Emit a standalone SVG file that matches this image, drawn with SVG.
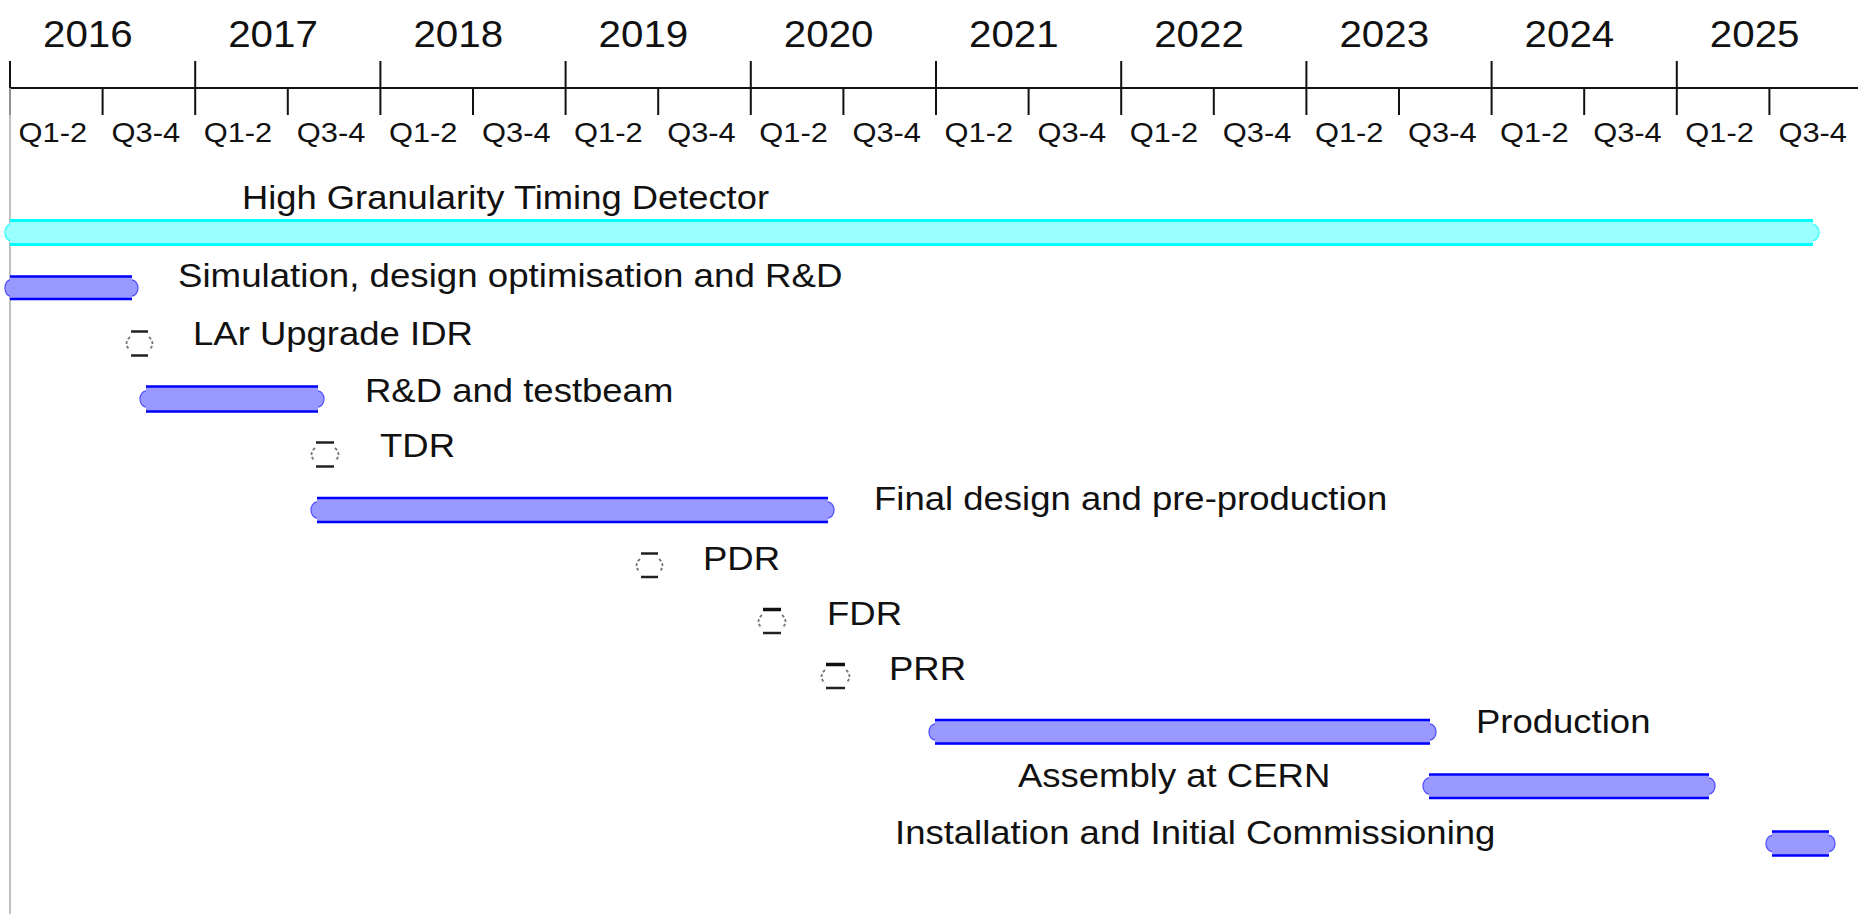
<svg xmlns="http://www.w3.org/2000/svg" width="1858" height="914" viewBox="0 0 1858 914">
<style>
text{font-family:"Liberation Sans",Arial,Helvetica,sans-serif;fill:#111}
.yr{font-size:37px}
.q{font-size:28.3px}
.lbl{font-size:33.5px}
.axis{stroke:#111;stroke-width:2;fill:none}
.guide{stroke:#b0b0b0;stroke-width:1.6}
.bfill{fill:#9999ff}
.bline{stroke:#0000ff;stroke-width:2.5}
.bend{fill:#9999ff;stroke:#5555ff;stroke-width:1.3}
.cfill{fill:#99ffff}
.cline{stroke:#00ffff;stroke-width:3}
.cend{fill:#99ffff;stroke:#33ffff;stroke-width:1.3}
.mdash{stroke:#222;stroke-width:2.5}
.mdash2{stroke:#111;stroke-width:3.5}
.mpar{fill:none;stroke:#777;stroke-width:1.8;stroke-dasharray:3 2}
</style>
<rect width="1858" height="914" fill="#fff"/>
<g id="axis">
<line class="axis" x1="10" y1="88" x2="1858" y2="88"/>
<path class="axis" d="M10 61V115M195.2 61V115M380.4 61V115M565.6 61V115M750.8 61V115M936 61V115M1121.2 61V115M1306.4 61V115M1491.6 61V115M1676.8 61V115"/>
<path class="axis" d="M102.6 88V115M287.8 88V115M473 88V115M658.2 88V115M843.4 88V115M1028.6 88V115M1213.8 88V115M1399 88V115M1584.2 88V115M1769.4 88V115"/>
<text class="yr" transform="translate(43 47) scale(1.09 1)">2016</text>
<text class="yr" transform="translate(228.2 47) scale(1.09 1)">2017</text>
<text class="yr" transform="translate(413.4 47) scale(1.09 1)">2018</text>
<text class="yr" transform="translate(598.6 47) scale(1.09 1)">2019</text>
<text class="yr" transform="translate(783.8 47) scale(1.09 1)">2020</text>
<text class="yr" transform="translate(969 47) scale(1.09 1)">2021</text>
<text class="yr" transform="translate(1154.2 47) scale(1.09 1)">2022</text>
<text class="yr" transform="translate(1339.4 47) scale(1.09 1)">2023</text>
<text class="yr" transform="translate(1524.6 47) scale(1.09 1)">2024</text>
<text class="yr" transform="translate(1709.8 47) scale(1.09 1)">2025</text>
<text class="q" transform="translate(18.5 142) scale(1.09 1)">Q1-2</text>
<text class="q" transform="translate(111.6 142) scale(1.09 1)">Q3-4</text>
<text class="q" transform="translate(203.7 142) scale(1.09 1)">Q1-2</text>
<text class="q" transform="translate(296.8 142) scale(1.09 1)">Q3-4</text>
<text class="q" transform="translate(388.9 142) scale(1.09 1)">Q1-2</text>
<text class="q" transform="translate(482 142) scale(1.09 1)">Q3-4</text>
<text class="q" transform="translate(574.1 142) scale(1.09 1)">Q1-2</text>
<text class="q" transform="translate(667.2 142) scale(1.09 1)">Q3-4</text>
<text class="q" transform="translate(759.3 142) scale(1.09 1)">Q1-2</text>
<text class="q" transform="translate(852.4 142) scale(1.09 1)">Q3-4</text>
<text class="q" transform="translate(944.5 142) scale(1.09 1)">Q1-2</text>
<text class="q" transform="translate(1037.6 142) scale(1.09 1)">Q3-4</text>
<text class="q" transform="translate(1129.7 142) scale(1.09 1)">Q1-2</text>
<text class="q" transform="translate(1222.8 142) scale(1.09 1)">Q3-4</text>
<text class="q" transform="translate(1314.9 142) scale(1.09 1)">Q1-2</text>
<text class="q" transform="translate(1408 142) scale(1.09 1)">Q3-4</text>
<text class="q" transform="translate(1500.1 142) scale(1.09 1)">Q1-2</text>
<text class="q" transform="translate(1593.2 142) scale(1.09 1)">Q3-4</text>
<text class="q" transform="translate(1685.3 142) scale(1.09 1)">Q1-2</text>
<text class="q" transform="translate(1778.4 142) scale(1.09 1)">Q3-4</text>
</g>
<g id="connectors">
<line class="guide" x1="10" y1="88" x2="10" y2="914"/>
</g>
<g id="hgtd">
<ellipse class="cend" cx="10" cy="232.5" rx="5" ry="8"/>
<ellipse class="cend" cx="1813" cy="232.5" rx="6" ry="8"/>
<rect class="cfill" x="10" y="220" width="1803" height="25"/>
<line class="cline" x1="10" y1="220.5" x2="1813" y2="220.5"/>
<line class="cline" x1="10" y1="244.5" x2="1813" y2="244.5"/>
<text class="lbl" transform="translate(242 209) scale(1.085 1)">High Granularity Timing Detector</text>
</g>
<g id="sim">
<ellipse class="bend" cx="10" cy="288" rx="5" ry="8"/>
<ellipse class="bend" cx="132" cy="288" rx="6" ry="8"/>
<rect class="bfill" x="10" y="276" width="122" height="24"/>
<line class="bline" x1="10" y1="276.5" x2="132" y2="276.5"/>
<line class="bline" x1="10" y1="299" x2="132" y2="299" stroke-width="3.5"/>
<text class="lbl" transform="translate(178 287) scale(1.095 1)">Simulation, design optimisation and R&amp;D</text>
</g>
<g id="lar-idr">
<line class="mdash" x1="131" y1="331.5" x2="148" y2="331.5"/>
<line class="mdash" x1="131" y1="355.5" x2="148" y2="355.5"/>
<path class="mpar" d="M130 337Q123 343.5 130 350M149 337Q156 343.5 149 350"/>
<text class="lbl" transform="translate(193 345) scale(1.09 1)">LAr Upgrade IDR</text>
</g>
<g id="rnd">
<ellipse class="bend" cx="146" cy="399" rx="6" ry="8"/>
<ellipse class="bend" cx="318" cy="399" rx="6" ry="8"/>
<rect class="bfill" x="146" y="386" width="172" height="26"/>
<line class="bline" x1="146" y1="386.5" x2="318" y2="386.5"/>
<line class="bline" x1="146" y1="411.5" x2="318" y2="411.5"/>
<text class="lbl" transform="translate(365 402) scale(1.09 1)">R&amp;D and testbeam</text>
</g>
<g id="tdr">
<line class="mdash" x1="316" y1="442.5" x2="334" y2="442.5"/>
<line class="mdash" x1="316" y1="466.5" x2="334" y2="466.5"/>
<path class="mpar" d="M315 448Q308 454.5 315 461M335 448Q342 454.5 335 461"/>
<text class="lbl" transform="translate(380 457) scale(1.09 1)">TDR</text>
</g>
<g id="final-design">
<ellipse class="bend" cx="317" cy="510" rx="6" ry="8"/>
<ellipse class="bend" cx="828" cy="510" rx="6" ry="8"/>
<rect class="bfill" x="317" y="497.5" width="511" height="25"/>
<line class="bline" x1="317" y1="498" x2="828" y2="498"/>
<line class="bline" x1="317" y1="522" x2="828" y2="522"/>
<text class="lbl" transform="translate(874 510) scale(1.09 1)">Final design and pre-production</text>
</g>
<g id="pdr">
<line class="mdash" x1="641" y1="553.5" x2="658" y2="553.5"/>
<line class="mdash" x1="641" y1="577" x2="658" y2="577"/>
<path class="mpar" d="M640 559Q633 565.5 640 572M659 559Q666 565.5 659 572"/>
<text class="lbl" transform="translate(703 570) scale(1.09 1)">PDR</text>
</g>
<g id="fdr">
<line class="mdash2" x1="763" y1="609.5" x2="781" y2="609.5"/>
<line class="mdash" x1="763" y1="633" x2="781" y2="633"/>
<path class="mpar" d="M762 615Q755 621.5 762 628M782 615Q789 621.5 782 628"/>
<text class="lbl" transform="translate(827 625) scale(1.09 1)">FDR</text>
</g>
<g id="prr">
<line class="mdash2" x1="826" y1="664.5" x2="845" y2="664.5"/>
<line class="mdash" x1="826" y1="688" x2="845" y2="688"/>
<path class="mpar" d="M825 670Q818 676.5 825 683M846 670Q853 676.5 846 683"/>
<text class="lbl" transform="translate(889 680) scale(1.09 1)">PRR</text>
</g>
<g id="production">
<ellipse class="bend" cx="935" cy="732" rx="6" ry="8"/>
<ellipse class="bend" cx="1430" cy="732" rx="6" ry="8"/>
<rect class="bfill" x="935" y="719.5" width="495" height="25"/>
<line class="bline" x1="935" y1="720" x2="1430" y2="720" stroke-width="3.5"/>
<line class="bline" x1="935" y1="743.5" x2="1430" y2="743.5"/>
<text class="lbl" transform="translate(1476 733) scale(1.09 1)">Production</text>
</g>
<g id="assembly">
<ellipse class="bend" cx="1429" cy="786" rx="6" ry="8"/>
<ellipse class="bend" cx="1709" cy="786" rx="6" ry="8"/>
<rect class="bfill" x="1429" y="774" width="280" height="24"/>
<line class="bline" x1="1429" y1="774.5" x2="1709" y2="774.5"/>
<line class="bline" x1="1429" y1="798" x2="1709" y2="798"/>
<text class="lbl" transform="translate(1018 787) scale(1.09 1)">Assembly at CERN</text>
</g>
<g id="installation">
<ellipse class="bend" cx="1772" cy="843.5" rx="6" ry="8"/>
<ellipse class="bend" cx="1829" cy="843.5" rx="6" ry="8"/>
<rect class="bfill" x="1772" y="831" width="57" height="25"/>
<line class="bline" x1="1772" y1="831.5" x2="1829" y2="831.5" stroke-width="3.5"/>
<line class="bline" x1="1772" y1="855.5" x2="1829" y2="855.5" stroke-width="3.5"/>
<text class="lbl" transform="translate(895 844) scale(1.09 1)">Installation and Initial Commissioning</text>
</g>
</svg>
